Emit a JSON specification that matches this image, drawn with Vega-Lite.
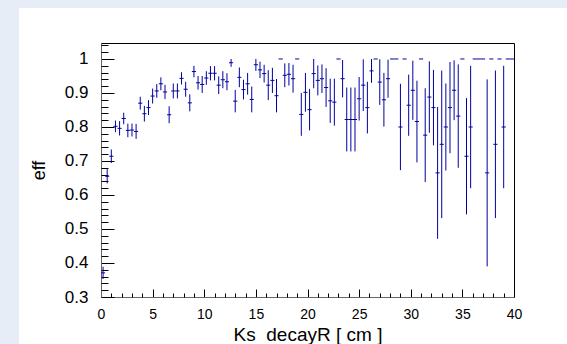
{
  "$schema": "https://vega.github.io/schema/vega-lite/v6.json",
  "width": 413,
  "height": 254,
  "autosize": "none",
  "padding": {"left": 101, "top": 43, "right": 53, "bottom": 47},
  "background": "white",
  "config": {
    "font": "Liberation Sans",
    "view": {"stroke": "#000000", "strokeWidth": 1},
    "axis": {"grid": false, "labelColor": "#000", "titleColor": "#000", "tickColor": "#000", "domainColor": "#666", "titleFontWeight": "normal", "labelFlush": false, "labelOverlap": false}
  },
  "data": {"values": [
    {"x":0.2,"y":0.371,"ylo":0.353,"yhi":0.389,"xlo":0.0,"xhi":0.4},
    {"x":0.6,"y":0.655,"ylo":0.634,"yhi":0.676,"xlo":0.4,"xhi":0.8},
    {"x":1.0,"y":0.714,"ylo":0.694,"yhi":0.734,"xlo":0.8,"xhi":1.2},
    {"x":1.4,"y":0.802,"ylo":0.785,"yhi":0.819,"xlo":1.2,"xhi":1.6},
    {"x":1.8,"y":0.796,"ylo":0.775,"yhi":0.817,"xlo":1.6,"xhi":2.0},
    {"x":2.2,"y":0.825,"ylo":0.808,"yhi":0.842,"xlo":2.0,"xhi":2.4},
    {"x":2.6,"y":0.790,"ylo":0.770,"yhi":0.810,"xlo":2.4,"xhi":2.8},
    {"x":3.0,"y":0.791,"ylo":0.772,"yhi":0.810,"xlo":2.8,"xhi":3.2},
    {"x":3.4,"y":0.787,"ylo":0.765,"yhi":0.809,"xlo":3.2,"xhi":3.6},
    {"x":3.8,"y":0.870,"ylo":0.851,"yhi":0.889,"xlo":3.6,"xhi":4.0},
    {"x":4.2,"y":0.839,"ylo":0.816,"yhi":0.862,"xlo":4.0,"xhi":4.4},
    {"x":4.6,"y":0.857,"ylo":0.835,"yhi":0.879,"xlo":4.4,"xhi":4.8},
    {"x":5.0,"y":0.891,"ylo":0.869,"yhi":0.913,"xlo":4.8,"xhi":5.2},
    {"x":5.4,"y":0.906,"ylo":0.886,"yhi":0.926,"xlo":5.2,"xhi":5.6},
    {"x":5.8,"y":0.927,"ylo":0.908,"yhi":0.946,"xlo":5.6,"xhi":6.0},
    {"x":6.2,"y":0.903,"ylo":0.882,"yhi":0.924,"xlo":6.0,"xhi":6.4},
    {"x":6.6,"y":0.836,"ylo":0.811,"yhi":0.861,"xlo":6.4,"xhi":6.8},
    {"x":7.0,"y":0.906,"ylo":0.884,"yhi":0.928,"xlo":6.8,"xhi":7.2},
    {"x":7.4,"y":0.906,"ylo":0.884,"yhi":0.928,"xlo":7.2,"xhi":7.6},
    {"x":7.8,"y":0.943,"ylo":0.925,"yhi":0.961,"xlo":7.6,"xhi":8.0},
    {"x":8.2,"y":0.911,"ylo":0.889,"yhi":0.933,"xlo":8.0,"xhi":8.4},
    {"x":8.6,"y":0.871,"ylo":0.846,"yhi":0.896,"xlo":8.4,"xhi":8.8},
    {"x":9.0,"y":0.963,"ylo":0.946,"yhi":0.980,"xlo":8.8,"xhi":9.2},
    {"x":9.4,"y":0.930,"ylo":0.910,"yhi":0.950,"xlo":9.2,"xhi":9.6},
    {"x":9.8,"y":0.925,"ylo":0.900,"yhi":0.950,"xlo":9.6,"xhi":10.0},
    {"x":10.2,"y":0.944,"ylo":0.924,"yhi":0.964,"xlo":10.0,"xhi":10.4},
    {"x":10.6,"y":0.958,"ylo":0.937,"yhi":0.979,"xlo":10.4,"xhi":10.8},
    {"x":11.0,"y":0.958,"ylo":0.937,"yhi":0.979,"xlo":10.8,"xhi":11.2},
    {"x":11.4,"y":0.923,"ylo":0.897,"yhi":0.949,"xlo":11.2,"xhi":11.6},
    {"x":11.8,"y":0.939,"ylo":0.914,"yhi":0.964,"xlo":11.6,"xhi":12.0},
    {"x":12.2,"y":0.933,"ylo":0.908,"yhi":0.958,"xlo":12.0,"xhi":12.4},
    {"x":12.6,"y":0.989,"ylo":0.977,"yhi":1.0,"xlo":12.4,"xhi":12.8},
    {"x":13.0,"y":0.876,"ylo":0.843,"yhi":0.909,"xlo":12.8,"xhi":13.2},
    {"x":13.4,"y":0.946,"ylo":0.917,"yhi":0.975,"xlo":13.2,"xhi":13.6},
    {"x":13.8,"y":0.910,"ylo":0.881,"yhi":0.939,"xlo":13.6,"xhi":14.0},
    {"x":14.2,"y":0.927,"ylo":0.895,"yhi":0.959,"xlo":14.0,"xhi":14.4},
    {"x":14.6,"y":0.881,"ylo":0.843,"yhi":0.919,"xlo":14.4,"xhi":14.8},
    {"x":15.0,"y":0.983,"ylo":0.965,"yhi":1.0,"xlo":14.8,"xhi":15.2},
    {"x":15.4,"y":0.968,"ylo":0.944,"yhi":0.992,"xlo":15.2,"xhi":15.6},
    {"x":15.8,"y":0.957,"ylo":0.931,"yhi":0.983,"xlo":15.6,"xhi":16.0},
    {"x":16.2,"y":0.923,"ylo":0.879,"yhi":0.967,"xlo":16.0,"xhi":16.4},
    {"x":16.6,"y":0.937,"ylo":0.900,"yhi":0.974,"xlo":16.4,"xhi":16.8},
    {"x":17.0,"y":0.892,"ylo":0.843,"yhi":0.941,"xlo":16.8,"xhi":17.2},
    {"x":17.4,"y":1.0,"ylo":1.0,"yhi":1.0,"xlo":17.2,"xhi":17.6},
    {"x":17.8,"y":0.952,"ylo":0.917,"yhi":0.987,"xlo":17.6,"xhi":18.0},
    {"x":18.2,"y":0.955,"ylo":0.922,"yhi":0.988,"xlo":18.0,"xhi":18.4},
    {"x":18.6,"y":0.942,"ylo":0.901,"yhi":0.983,"xlo":18.4,"xhi":18.8},
    {"x":19.0,"y":1.0,"ylo":1.0,"yhi":1.0,"xlo":18.8,"xhi":19.2},
    {"x":19.4,"y":0.837,"ylo":0.774,"yhi":0.900,"xlo":19.2,"xhi":19.6},
    {"x":19.8,"y":0.902,"ylo":0.845,"yhi":0.959,"xlo":19.6,"xhi":20.0},
    {"x":20.2,"y":0.851,"ylo":0.790,"yhi":0.912,"xlo":20.0,"xhi":20.4},
    {"x":20.6,"y":0.957,"ylo":0.914,"yhi":1.0,"xlo":20.4,"xhi":20.8},
    {"x":21.0,"y":0.937,"ylo":0.893,"yhi":0.981,"xlo":20.8,"xhi":21.2},
    {"x":21.4,"y":0.942,"ylo":0.900,"yhi":0.984,"xlo":21.2,"xhi":21.6},
    {"x":21.8,"y":0.916,"ylo":0.859,"yhi":0.973,"xlo":21.6,"xhi":22.0},
    {"x":22.2,"y":0.877,"ylo":0.812,"yhi":0.942,"xlo":22.0,"xhi":22.4},
    {"x":22.6,"y":0.873,"ylo":0.804,"yhi":0.942,"xlo":22.4,"xhi":22.8},
    {"x":23.0,"y":1.0,"ylo":1.0,"yhi":1.0,"xlo":22.8,"xhi":23.2},
    {"x":23.4,"y":0.942,"ylo":0.887,"yhi":0.997,"xlo":23.2,"xhi":23.6},
    {"x":23.8,"y":0.822,"ylo":0.728,"yhi":0.916,"xlo":23.6,"xhi":24.0},
    {"x":24.2,"y":0.822,"ylo":0.728,"yhi":0.916,"xlo":24.0,"xhi":24.4},
    {"x":24.6,"y":0.822,"ylo":0.728,"yhi":0.916,"xlo":24.4,"xhi":24.8},
    {"x":25.0,"y":0.883,"ylo":0.819,"yhi":0.947,"xlo":24.8,"xhi":25.2},
    {"x":25.4,"y":0.923,"ylo":0.847,"yhi":0.999,"xlo":25.2,"xhi":25.6},
    {"x":25.8,"y":0.857,"ylo":0.781,"yhi":0.933,"xlo":25.6,"xhi":26.0},
    {"x":26.2,"y":0.965,"ylo":0.930,"yhi":1.0,"xlo":26.0,"xhi":26.4},
    {"x":26.6,"y":1.0,"ylo":1.0,"yhi":1.0,"xlo":26.4,"xhi":26.8},
    {"x":27.0,"y":0.932,"ylo":0.865,"yhi":0.999,"xlo":26.8,"xhi":27.2},
    {"x":27.4,"y":0.880,"ylo":0.801,"yhi":0.959,"xlo":27.2,"xhi":27.6},
    {"x":27.8,"y":0.942,"ylo":0.886,"yhi":0.998,"xlo":27.6,"xhi":28.0},
    {"x":28.2,"y":1.0,"ylo":1.0,"yhi":1.0,"xlo":28.0,"xhi":28.4},
    {"x":28.6,"y":1.0,"ylo":1.0,"yhi":1.0,"xlo":28.4,"xhi":28.8},
    {"x":29.0,"y":0.800,"ylo":0.673,"yhi":0.927,"xlo":28.8,"xhi":29.2},
    {"x":29.4,"y":1.0,"ylo":1.0,"yhi":1.0,"xlo":29.2,"xhi":29.6},
    {"x":29.8,"y":0.864,"ylo":0.774,"yhi":0.954,"xlo":29.6,"xhi":30.0},
    {"x":30.2,"y":0.908,"ylo":0.821,"yhi":0.995,"xlo":30.0,"xhi":30.4},
    {"x":30.6,"y":0.816,"ylo":0.696,"yhi":0.936,"xlo":30.4,"xhi":30.8},
    {"x":31.0,"y":1.0,"ylo":1.0,"yhi":1.0,"xlo":30.8,"xhi":31.2},
    {"x":31.4,"y":0.776,"ylo":0.638,"yhi":0.914,"xlo":31.2,"xhi":31.6},
    {"x":31.8,"y":0.888,"ylo":0.783,"yhi":0.993,"xlo":31.6,"xhi":32.0},
    {"x":32.2,"y":0.857,"ylo":0.746,"yhi":0.968,"xlo":32.0,"xhi":32.4},
    {"x":32.6,"y":0.665,"ylo":0.471,"yhi":0.859,"xlo":32.4,"xhi":32.8},
    {"x":33.0,"y":0.749,"ylo":0.532,"yhi":0.966,"xlo":32.8,"xhi":33.2},
    {"x":33.4,"y":0.800,"ylo":0.672,"yhi":0.928,"xlo":33.2,"xhi":33.6},
    {"x":33.8,"y":0.857,"ylo":0.723,"yhi":0.991,"xlo":33.6,"xhi":34.0},
    {"x":34.2,"y":0.908,"ylo":0.820,"yhi":0.996,"xlo":34.0,"xhi":34.4},
    {"x":34.6,"y":0.832,"ylo":0.680,"yhi":0.984,"xlo":34.4,"xhi":34.8},
    {"x":35.0,"y":1.0,"ylo":1.0,"yhi":1.0,"xlo":34.8,"xhi":35.2},
    {"x":35.4,"y":0.714,"ylo":0.543,"yhi":0.885,"xlo":35.2,"xhi":35.6},
    {"x":35.8,"y":0.800,"ylo":0.620,"yhi":0.980,"xlo":35.6,"xhi":36.0},
    {"x":36.2,"y":1.0,"ylo":1.0,"yhi":1.0,"xlo":36.0,"xhi":36.4},
    {"x":36.6,"y":1.0,"ylo":1.0,"yhi":1.0,"xlo":36.4,"xhi":36.8},
    {"x":37.0,"y":1.0,"ylo":1.0,"yhi":1.0,"xlo":36.8,"xhi":37.2},
    {"x":37.4,"y":0.665,"ylo":0.390,"yhi":0.940,"xlo":37.2,"xhi":37.6},
    {"x":37.8,"y":1.0,"ylo":1.0,"yhi":1.0,"xlo":37.6,"xhi":38.0},
    {"x":38.2,"y":0.749,"ylo":0.532,"yhi":0.966,"xlo":38.0,"xhi":38.4},
    {"x":38.6,"y":1.0,"ylo":1.0,"yhi":1.0,"xlo":38.4,"xhi":38.8},
    {"x":39.0,"y":0.800,"ylo":0.620,"yhi":0.980,"xlo":38.8,"xhi":39.2},
    {"x":39.4,"y":1.0,"ylo":1.0,"yhi":1.0,"xlo":39.2,"xhi":39.6},
    {"x":39.8,"y":1.0,"ylo":1.0,"yhi":1.0,"xlo":39.6,"xhi":40.0}
  ]},
  "resolve": {"axis": {"x": "independent", "y": "independent"}},
  "layer": [
    {
      "data": {"values": [{}]},
      "mark": {"type": "rect", "color": "#e6edf6", "clip": false},
      "encoding": {
        "x": {"datum": -15, "type": "quantitative", "scale": {"domain": [0, 40], "nice": false, "zero": false}, "axis": null},
        "x2": {"datum": -7.94},
        "y": {"datum": 0.0, "type": "quantitative", "scale": {"domain": [0.3, 1.047], "nice": false, "zero": false}, "axis": null},
        "y2": {"datum": 1.4}
      }
    },
    {
      "data": {"values": [{}]},
      "mark": {"type": "rect", "color": "#e6edf6", "clip": false},
      "encoding": {
        "x": {"datum": -15, "type": "quantitative", "axis": null},
        "x2": {"datum": 60},
        "y": {"datum": 1.150, "type": "quantitative", "axis": null},
        "y2": {"datum": 1.4}
      }
    },
    {
      "mark": {"type": "rule", "color": "#0000a0", "strokeWidth": 1},
      "encoding": {
        "x": {"field": "x", "type": "quantitative", "scale": {"domain": [0, 40], "nice": false, "zero": false},
          "axis": {"orient": "bottom", "values": [0,5,10,15,20,25,30,35,40], "tickSize": -8, "labelFontSize": 14, "labelPadding": 18, "title": "Ks_decayR [ cm ]", "titleFontSize": 19, "titlePadding": 4}},
        "y": {"field": "ylo", "type": "quantitative", "scale": {"domain": [0.3, 1.047], "nice": false, "zero": false},
          "axis": {"orient": "left", "values": [0.3,0.4,0.5,0.6,0.7,0.8,0.9,1.0], "format": ".1~f", "tickSize": -13, "labelFontSize": 17, "labelPadding": 26, "title": "eff", "titleFontSize": 18, "titlePadding": 16}},
        "y2": {"field": "yhi"}
      }
    },
    {
      "mark": {"type": "rule", "color": "#0000a0", "strokeWidth": 1},
      "encoding": {
        "x": {"field": "xlo", "type": "quantitative", "axis": null},
        "x2": {"field": "xhi"},
        "y": {"field": "y", "type": "quantitative", "axis": null}
      }
    },
    {
      "mark": {"type": "point", "opacity": 0},
      "encoding": {
        "x": {"field": "x", "type": "quantitative",
          "axis": {"orient": "bottom", "values": [1,2,3,4,6,7,8,9,11,12,13,14,16,17,18,19,21,22,23,24,26,27,28,29,31,32,33,34,36,37,38,39], "tickSize": -4, "labels": false, "title": null, "domain": false}},
        "y": {"field": "y", "type": "quantitative",
          "axis": {"orient": "left", "values": [0.32,0.34,0.36,0.38,0.42,0.44,0.46,0.48,0.52,0.54,0.56,0.58,0.62,0.64,0.66,0.68,0.72,0.74,0.76,0.78,0.82,0.84,0.86,0.88,0.92,0.94,0.96,0.98,1.02,1.04], "tickSize": -7, "labels": false, "title": null, "domain": false}}
      }
    }
  ]
}
